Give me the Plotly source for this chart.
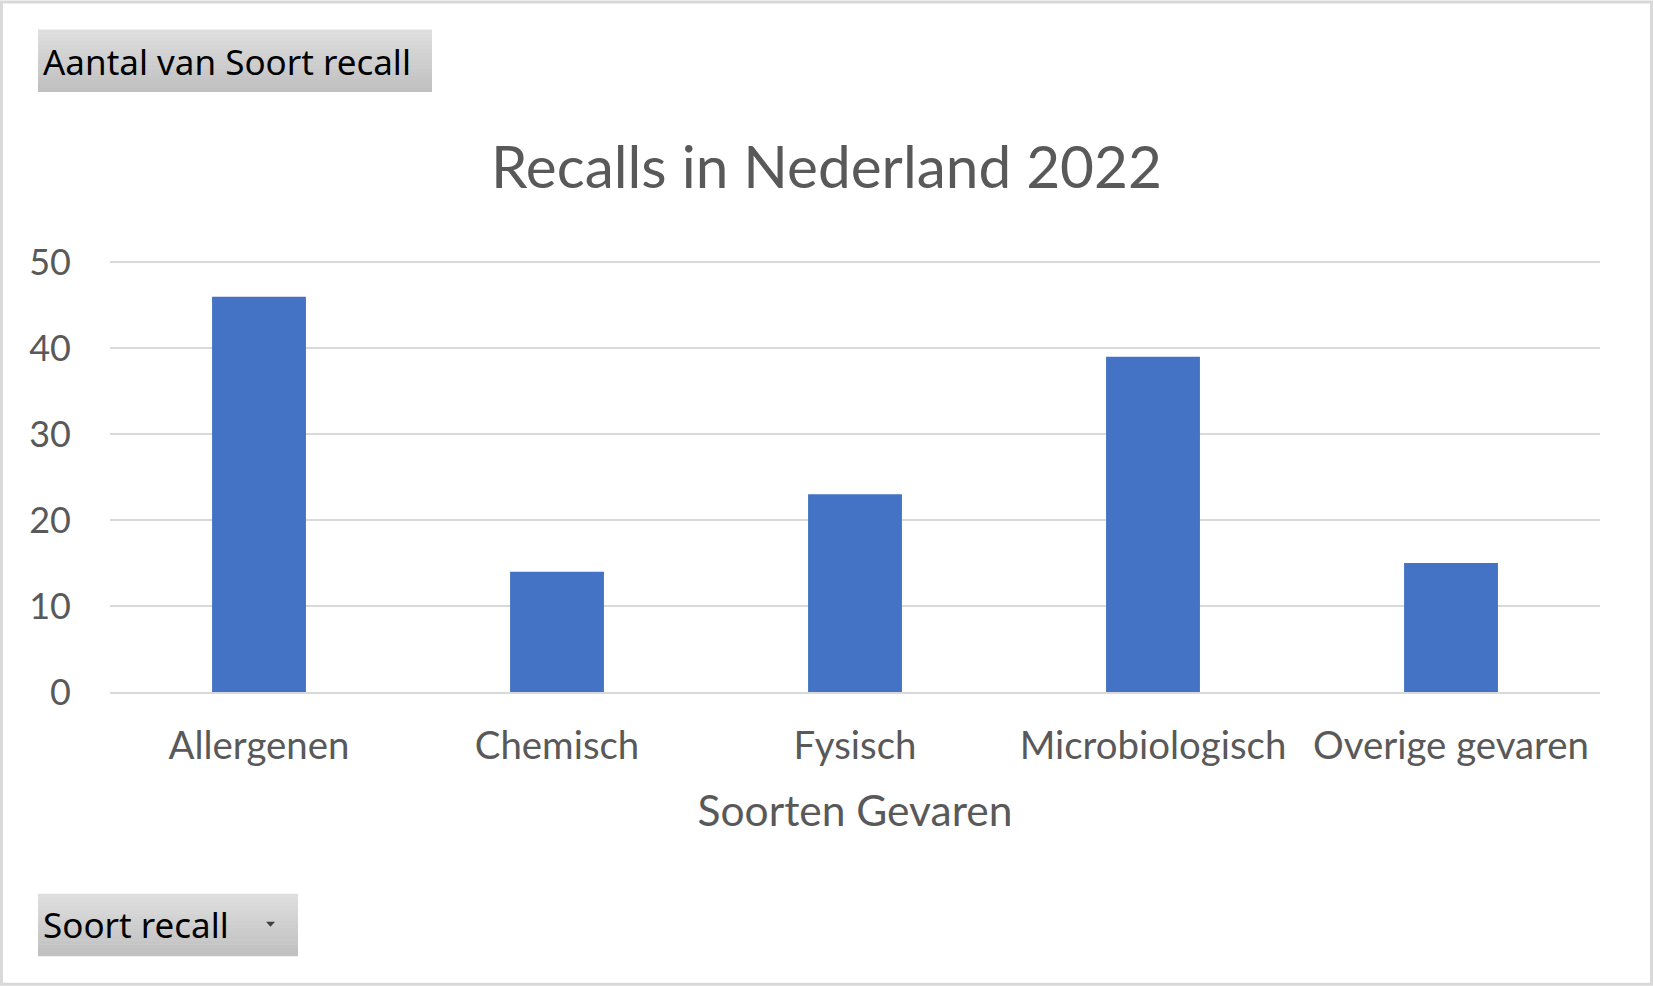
import plotly.graph_objects as go

# Data
categories = ["Allergenen", "Chemisch", "Fysisch", "Microbiologisch", "Overige gevaren"]
counts = [46, 14, 23, 39, 15]
y_ticks = [0, 10, 20, 30, 40, 50]
y_max = 50.5  # a little headroom so the 50 gridline is drawn

W, H = 1653, 986
PLOT_TOP, PLOT_BOTTOM = 262, 692  # pixel rows of the 50 and 0 gridlines
ML, MR = 110, 53
MB = H - PLOT_BOTTOM
MT = PLOT_BOTTOM - (PLOT_BOTTOM - PLOT_TOP) * y_max / 50
PW, PH = W - ML - MR, H - MT - MB

TEXT = "#595959"
GRID = "#d9d9d9"
BAR = "#4472c4"
FONT = "Lato"


def px(x):
    # pixel x -> paper x
    return (x - ML) / PW


def py(y):
    # pixel y (from top) -> paper y
    return (H - MB - y) / PH


def gradient_box(x0, y0, x1, y1, top=(222, 222, 222), bottom=(192, 192, 192), steps=16):
    out = []
    h = (y1 - y0) / steps
    for i in range(steps):
        t = i / (steps - 1)
        c = tuple(round(a + (b - a) * t) for a, b in zip(top, bottom))
        out.append(dict(
            type="rect", xref="paper", yref="paper",
            x0=px(x0), x1=px(x1), y0=py(y0 + i * h), y1=py(y0 + (i + 1) * h + 0.5),
            fillcolor="rgb(%d,%d,%d)" % c, line=dict(width=0), layer="below",
        ))
    return out


fig = go.Figure()
fig.add_trace(go.Bar(x=categories, y=counts, marker_color=BAR, marker_line_width=0))

shapes = []
# pivot field buttons
shapes += gradient_box(38, 29, 432, 91)
shapes += gradient_box(38, 894, 298, 956)
# dropdown arrow
shapes.append(dict(
    type="path", xref="paper", yref="paper",
    path="M %f %f L %f %f L %f %f Z" % (px(266), py(922), px(275), py(922), px(270.5), py(927)),
    fillcolor="#404040", line=dict(width=0),
))
# outer border
shapes.append(dict(
    type="rect", xref="paper", yref="paper",
    x0=px(1.5), x1=px(W - 1.5), y0=py(1.5), y1=py(H - 1.5),
    line=dict(color=GRID, width=3), fillcolor="rgba(0,0,0,0)",
))

annotations = [
    dict(text="Aantal van Soort recall", xref="paper", yref="paper",
         x=px(41), y=py(61), xanchor="left", yanchor="middle", showarrow=False,
         font=dict(family="Noto Sans", size=35, color="#000000")),
    dict(text="Soort recall", xref="paper", yref="paper",
         x=px(41), y=py(925), xanchor="left", yanchor="middle", showarrow=False,
         font=dict(family="Noto Sans", size=35, color="#000000")),
]

fig.update_layout(
    width=W, height=H,
    margin=dict(l=ML, r=MR, t=MT, b=MB, pad=0),
    paper_bgcolor="white", plot_bgcolor="white",
    showlegend=False,
    bargap=0.685,
    title=dict(text="Recalls in Nederland 2022", x=0.5, xanchor="center",
               xref="container", yref="container", y=1 - 168 / H, yanchor="middle",
               font=dict(family=FONT, size=58.5, color=TEXT)),
    shapes=shapes,
    annotations=annotations,
)

fig.update_xaxes(
    showgrid=False, showline=True, linecolor=GRID, linewidth=2,
    ticks="", ticklabelstandoff=19,
    tickfont=dict(family=FONT, size=38.4, color=TEXT),
    title=dict(text="Soorten Gevaren", standoff=30,
               font=dict(family=FONT, size=42.5, color=TEXT)),
)
fig.update_yaxes(
    range=[0, y_max], tickvals=y_ticks,
    showgrid=True, gridcolor=GRID, gridwidth=2,
    zeroline=False, showline=False, ticks="", ticklabelstandoff=38,
    tickfont=dict(family=FONT, size=36, color=TEXT),
)

fig.write_html("out.html", config={"displayModeBar": False},
               post_script="document.body.style.margin='0';"
               "document.body.style.overflow='hidden';")
